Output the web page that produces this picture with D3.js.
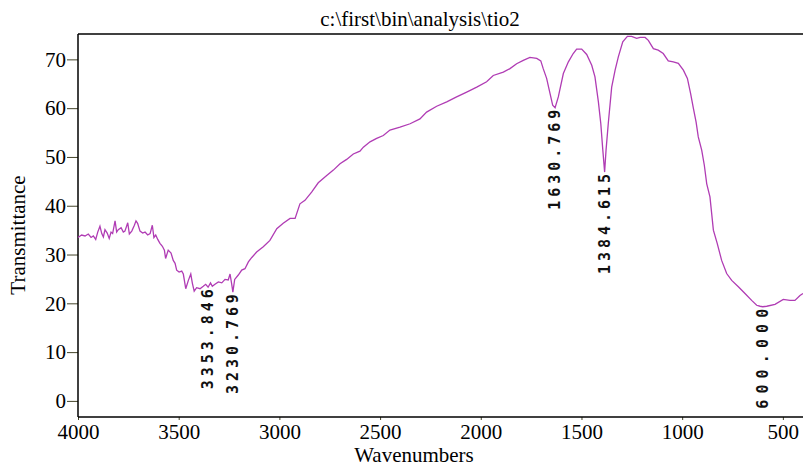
<!DOCTYPE html>
<html>
<head>
<meta charset="utf-8">
<script src="https://cdn.jsdelivr.net/npm/d3@7/dist/d3.min.js"></script>
<style>
  html, body { margin: 0; padding: 0; background: #fff; }
  svg { display: block; }
</style>
</head>
<body>
<svg id="chart" width="803" height="467"></svg>
<script>
const title = "c:\\first\\bin\\analysis\\tio2";
const xLabel = "Wavenumbers";
const yLabel = "Transmittance";
const xTicks = [4000, 3500, 3000, 2500, 2000, 1500, 1000, 500];
const yTicks = [0, 10, 20, 30, 40, 50, 60, 70];

const wavenumber = [
  4000, 3982, 3965, 3949, 3935, 3924, 3912, 3902, 3891, 3882, 3874, 3866, 3855, 3845, 3836, 3828,
  3816, 3808, 3800, 3786, 3775, 3767, 3753, 3745, 3733, 3720, 3712, 3704, 3692, 3679, 3667, 3654,
  3642, 3631, 3623, 3614, 3604, 3593, 3581, 3571, 3565, 3552, 3538, 3527, 3518, 3510, 3498, 3485,
  3477, 3465, 3452, 3440, 3432, 3423, 3411, 3394, 3378, 3366, 3354, 3342, 3333, 3320, 3303, 3286,
  3270, 3254, 3245, 3237, 3231, 3222, 3204, 3187, 3171, 3154, 3137, 3113, 3080, 3047, 3013, 2981,
  2947, 2922, 2898, 2873, 2840, 2807, 2765, 2732, 2699, 2666, 2633, 2600, 2583, 2550, 2517, 2484,
  2451, 2401, 2351, 2302, 2269, 2219, 2169, 2120, 2070, 2020, 1971, 1938, 1888, 1855, 1822, 1789,
  1756, 1722, 1702, 1690, 1673, 1656, 1643, 1631, 1615, 1590, 1565, 1541, 1524, 1499, 1474, 1449,
  1433, 1416, 1404, 1394, 1385, 1378, 1367, 1350, 1333, 1317, 1295, 1272, 1251, 1226, 1209, 1184,
  1168, 1143, 1119, 1094, 1069, 1044, 1019, 994, 974, 958, 944, 931, 920, 903, 890, 878,
  862, 845, 826, 804, 779, 754, 721, 688, 655, 630, 613, 600, 580, 539, 498, 465,
  440, 415, 400
];
const transmittance = [
  33.5, 34.0, 33.8, 34.2, 33.5, 33.8, 33.1, 34.6, 35.8, 34.3, 33.6, 35.1, 34.4, 33.3, 34.6, 34.3,
  36.9, 34.6, 35.1, 35.5, 34.6, 34.8, 36.5, 34.2, 34.8, 36.0, 36.9, 36.4, 34.8, 34.4, 34.6, 34.0,
  34.3, 36.0, 33.5, 34.0, 33.1, 32.3, 31.7, 30.9, 29.2, 30.9, 30.3, 28.8, 28.2, 26.8, 26.4, 26.6,
  26.0, 23.0, 24.7, 26.0, 24.1, 22.5, 23.2, 23.0, 23.5, 23.9, 23.3, 24.2, 23.5, 23.9, 24.4, 24.2,
  24.9, 24.8, 26.0, 24.0, 22.3, 24.9, 25.8, 26.8, 27.1, 28.5, 29.4, 30.5, 31.6, 32.9, 35.3, 36.4,
  37.4, 37.4, 40.4, 41.1, 42.8, 44.7, 46.2, 47.3, 48.6, 49.5, 50.6, 51.2, 52.0, 53.1, 53.8, 54.4,
  55.5, 56.1, 56.8, 57.8, 59.2, 60.4, 61.3, 62.3, 63.3, 64.3, 65.4, 66.7, 67.4, 68.1, 69.1, 69.8,
  70.4, 70.2, 69.7, 68.1, 66.1, 63.0, 60.6, 60.1, 62.3, 67.1, 69.5, 71.2, 72.1, 72.1, 71.0, 68.8,
  66.4, 61.3, 56.8, 51.4, 46.9, 51.4, 56.8, 64.3, 67.8, 70.5, 73.6, 74.7, 74.7, 74.3, 74.5, 74.5,
  73.9, 72.2, 71.9, 71.2, 69.7, 69.5, 69.2, 67.8, 66.1, 63.0, 59.9, 57.2, 54.1, 51.4, 48.3, 44.5,
  41.8, 35.0, 32.3, 28.8, 26.1, 24.7, 23.4, 22.0, 20.6, 19.6, 19.4, 19.3, 19.4, 19.8, 20.8, 20.6,
  20.6, 21.6, 22.0
];
const peakWavenumbers = [3353.846, 3230.769, 1630.769, 1384.615, 600.000];
const peakTransmittance = [23.3, 22.3, 60.1, 46.9, 19.3];

const svg = d3.select("#chart");
const mLeft = 78, mRight = 803, mTop = 34, mBottom = 417;

const x = d3.scaleLinear().domain([4000, 400]).range([mLeft, mRight]);
const y = d3.scaleLinear().domain([-3.3, 75.2]).range([mBottom, mTop]);

const serif = "'Liberation Serif', 'Times New Roman', serif";

// Title
svg.append("text")
  .attr("x", 420).attr("y", 26)
  .attr("text-anchor", "middle")
  .attr("font-family", serif).attr("font-size", 21)
  .attr("fill", "#000")
  .text(title);

// Top frame line
svg.append("line")
  .attr("x1", mLeft).attr("x2", mRight)
  .attr("y1", mTop).attr("y2", mTop)
  .attr("stroke", "#000").attr("stroke-width", 1.5);

// Y axis
const yAxis = svg.append("g")
  .attr("transform", `translate(${mLeft},0)`)
  .call(d3.axisLeft(y).tickValues(yTicks).tickFormat(d3.format("d")).tickSize(11).tickPadding(1).tickSizeOuter(0));
yAxis.select(".domain").remove();
yAxis.selectAll(".tick line").attr("stroke", "#44442a");
yAxis.selectAll("text").attr("font-family", serif).attr("font-size", 21).attr("fill", "#000");
svg.append("line")
  .attr("x1", mLeft).attr("x2", mLeft)
  .attr("y1", mTop).attr("y2", mBottom)
  .attr("stroke", "#000").attr("stroke-width", 1.5);

// X axis
const xAxis = svg.append("g")
  .attr("transform", `translate(0,${mBottom})`)
  .call(d3.axisBottom(x).tickValues(xTicks).tickFormat(d3.format("d")).tickSize(3).tickPadding(4).tickSizeOuter(0));
xAxis.select(".domain").remove();
xAxis.selectAll(".tick line").attr("stroke", "#44442a");
xAxis.selectAll("text").attr("font-family", serif).attr("font-size", 21).attr("fill", "#000");
svg.append("line")
  .attr("x1", mLeft).attr("x2", mRight)
  .attr("y1", mBottom).attr("y2", mBottom)
  .attr("stroke", "#000").attr("stroke-width", 1.5);

// Axis labels
svg.append("text")
  .attr("x", 414).attr("y", 462)
  .attr("text-anchor", "middle")
  .attr("font-family", serif).attr("font-size", 21)
  .text(xLabel);
svg.append("text")
  .attr("transform", "translate(25,235) rotate(-90)")
  .attr("text-anchor", "middle")
  .attr("font-family", serif).attr("font-size", 21)
  .text(yLabel);

// Spectrum
const data = wavenumber.map((w, i) => ({ w, t: transmittance[i] }));
svg.append("path")
  .datum(data)
  .attr("fill", "none")
  .attr("stroke", "#b03cb4")
  .attr("stroke-width", 1.3)
  .attr("d", d3.line().x(d => x(d.w)).y(d => y(d.t)));

// Peak labels
peakWavenumbers.forEach((w, i) => {
  const px = x(w), py = y(peakTransmittance[i]) + 2;
  svg.append("text")
    .attr("transform", `translate(${px},${py}) rotate(-90)`)
    .attr("text-anchor", "end")
    .attr("dominant-baseline", "central")
    .attr("font-family", "'DejaVu Sans Mono', monospace")
    .attr("font-weight", "bold")
    .attr("font-size", 15)
    .attr("textLength", 100)
    .attr("lengthAdjust", "spacing")
    .attr("fill", "#111")
    .text(w.toFixed(3));
});
</script>
</body>
</html>
